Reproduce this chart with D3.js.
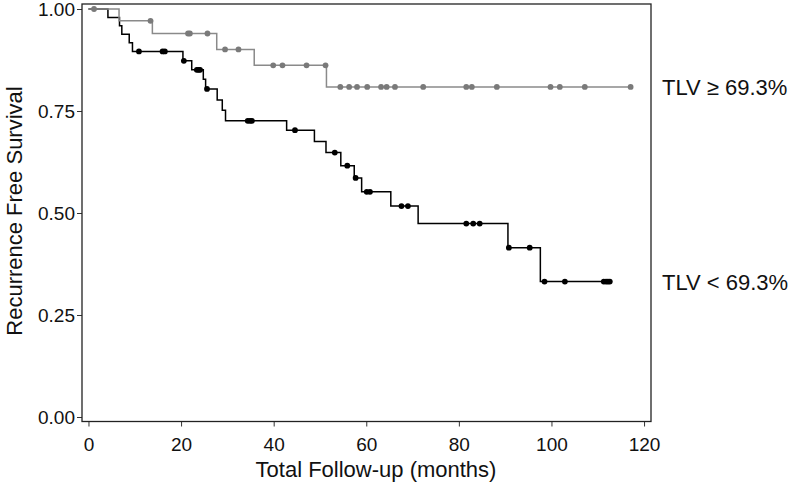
<!DOCTYPE html>
<html>
<head>
<meta charset="utf-8">
<script src="https://cdn.jsdelivr.net/npm/d3@7"></script>
<style>
	body { margin: 0; background: #fff; }
	svg { display: block; font-family: "Liberation Sans", Arial, sans-serif; }
</style>
</head>
<body>
<svg width="797" height="485"></svg>
<script>
// high TLV group: drop times and survival after each drop
var high_times = [6.6, 13.8, 27.7, 35.8, 51.4],
	high_surv = [0.971, 0.940, 0.901, 0.862, 0.809],
	high_censor = [1.2, 13.4, 21.5, 21.9, 25.7, 29.5, 32.4, 39.9, 41.9, 47.1, 51.2, 54.4, 56.3, 58.0, 60.2,
		63.2, 64.4, 66.2, 72.3, 81.6, 82.8, 88.2, 99.8, 101.8, 107.2, 117.1],
	high_end = 117.1

// low TLV group
var low_times = [4.2, 6.7, 7.2, 8.8, 9.5, 20.4, 22.3, 24.8, 25.3, 27.8, 28.9, 29.6, 42.8, 48.8, 51.3,
		54.5, 57.4, 59.0, 65.3, 71.2, 90.6, 97.6],
	low_surv = [0.979, 0.959, 0.938, 0.917, 0.896, 0.873, 0.851, 0.828, 0.804, 0.777, 0.752, 0.726, 0.703,
		0.675, 0.648, 0.616, 0.586, 0.552, 0.517, 0.474, 0.415, 0.332],
	low_censor = [10.9, 16.0, 16.5, 20.6, 23.4, 23.8, 24.1, 25.6, 34.4, 34.9, 35.3, 44.6, 53.2, 55.9, 57.7,
		60.1, 60.8, 67.6, 69.0, 81.6, 83.1, 84.5, 90.8, 95.3, 98.5, 102.9, 111.3, 111.8, 112.2, 112.6],
	low_end = 112.6

var x_ticks = [0, 20, 40, 60, 80, 100, 120],
	y_ticks = [0, 0.25, 0.5, 0.75, 1]

var labels = ['TLV \u2265 69.3%', 'TLV < 69.3%']

var svg = d3.select('svg'),
	p_left = 82, p_right = 651, p_top = 4, p_bottom = 421.5

var x = d3.scaleLinear().domain([-1.4, 121.5]).range([p_left, p_right]),
	y = d3.scaleLinear().domain([0, 1]).range([417, 9])

draw_axes()
draw_curve(low_times, low_surv, low_censor, low_end, '#000', '#000')
draw_curve(high_times, high_surv, high_censor, high_end, '#8a8a8a', '#7a7a7a')

svg.append('rect')
	.attr('x', p_left).attr('y', p_top)
	.attr('width', p_right - p_left).attr('height', p_bottom - p_top)
	.attr('fill', 'none').attr('stroke', '#222').attr('stroke-width', 1.3)

svg.append('text').text(labels[0])
	.attr('x', 662).attr('y', y(high_surv[high_surv.length - 1]) + 8)
	.attr('font-size', 22).attr('fill', '#111')
svg.append('text').text(labels[1])
	.attr('x', 662).attr('y', y(low_surv[low_surv.length - 1]) + 8)
	.attr('font-size', 22).attr('fill', '#111')

function draw_axes() {
	var ax = svg.append('g')
		.attr('transform', 'translate(0,' + p_bottom + ')')
		.call(d3.axisBottom(x).tickValues(x_ticks).tickSize(5).tickPadding(11))
	var ay = svg.append('g')
		.attr('transform', 'translate(' + p_left + ',0)')
		.call(d3.axisLeft(y).tickValues(y_ticks).tickFormat(d3.format('.2f')).tickSize(5).tickPadding(2))

	;[ax, ay].forEach(function(g) {
		g.select('.domain').remove()
		g.selectAll('line').attr('stroke', '#333')
		g.selectAll('text').attr('font-size', 19).attr('fill', '#111').attr('font-family', null)
	})
	ay.selectAll('text').attr('dy', '0.34em')

	svg.append('text').text('Total Follow-up (months)')
		.attr('x', 376).attr('y', 477)
		.attr('text-anchor', 'middle').attr('font-size', 22).attr('fill', '#111')
	svg.append('text').text('Recurrence Free Survival')
		.attr('transform', 'translate(22,211) rotate(-90)')
		.attr('text-anchor', 'middle').attr('font-size', 22).attr('fill', '#111')
}

function surv_at(times, surv, t) {
	var s = 1
	for(var i = 0; i < times.length; ++i) if(times[i] <= t) s = surv[i]
	return s
}

function draw_curve(times, surv, censor, end, stroke, fill) {
	var pts = [[0, 1]]
	for(var i = 0; i < times.length; ++i) pts.push([times[i], surv[i]])
	pts.push([end, surv[surv.length - 1]])

	var line = d3.line()
		.x(function(d) { return x(d[0]) })
		.y(function(d) { return y(d[1]) })
		.curve(d3.curveStepAfter)

	svg.append('path').datum(pts)
		.attr('d', line)
		.attr('fill', 'none')
		.attr('stroke', stroke)
		.attr('stroke-width', 1.5)

	svg.append('g').selectAll('circle').data(censor)
		.enter().append('circle')
		.attr('cx', function(d) { return x(d) })
		.attr('cy', function(d) { return y(surv_at(times, surv, d)) })
		.attr('r', 2.9)
		.attr('fill', fill)
}
</script>
</body>
</html>
